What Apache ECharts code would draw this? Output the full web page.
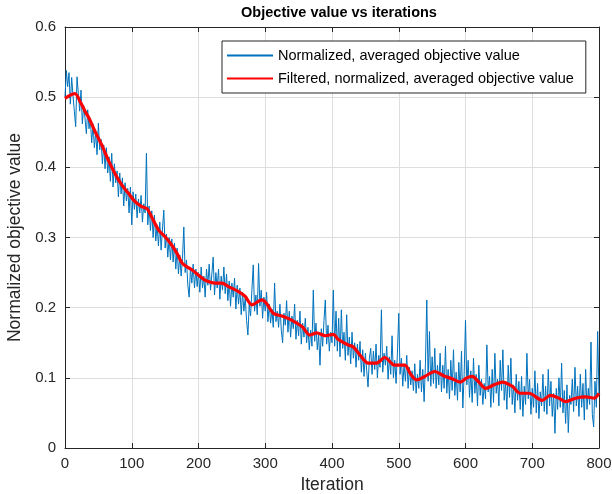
<!DOCTYPE html>
<html>
<head>
<meta charset="utf-8">
<title>Objective value vs iterations</title>
<script src="https://cdn.jsdelivr.net/npm/echarts@6/dist/echarts.min.js"></script>
<style>
  html, body { margin: 0; padding: 0; background: #fff; }
  #chart { width: 612px; height: 494px; }
</style>
</head>
<body>
<div id="chart"></div>
<script>
// noisy objective, one reading every 2 iterations (0..800)
const rawStep = 2;
const rawValues = [
  0.500, 0.538, 0.515, 0.535, 0.490, 0.528, 0.502, 0.480, 0.458, 0.529, 0.505, 0.480, 0.510, 0.462, 0.488, 0.470, 0.448, 0.482, 0.455, 0.468,
  0.435, 0.462, 0.428, 0.450, 0.418, 0.463, 0.425, 0.440, 0.405, 0.432, 0.398, 0.428, 0.392, 0.415, 0.380, 0.420, 0.372, 0.405, 0.378, 0.395,
  0.358, 0.392, 0.362, 0.385, 0.345, 0.378, 0.352, 0.370, 0.335, 0.372, 0.318, 0.365, 0.340, 0.362, 0.328, 0.355, 0.335, 0.360, 0.322, 0.348,
  0.335, 0.420, 0.318, 0.345, 0.310, 0.338, 0.300, 0.332, 0.295, 0.318, 0.288, 0.322, 0.282, 0.312, 0.339, 0.285, 0.305, 0.272, 0.300, 0.268,
  0.298, 0.265, 0.292, 0.255, 0.285, 0.248, 0.275, 0.245, 0.270, 0.315, 0.250, 0.268, 0.232, 0.215, 0.258, 0.235, 0.262, 0.228, 0.255, 0.230,
  0.250, 0.222, 0.258, 0.228, 0.245, 0.215, 0.255, 0.232, 0.262, 0.225, 0.248, 0.272, 0.218, 0.250, 0.228, 0.255, 0.212, 0.245, 0.225, 0.258,
  0.220, 0.248, 0.210, 0.238, 0.202, 0.235, 0.215, 0.242, 0.198, 0.232, 0.205, 0.228, 0.190, 0.222, 0.195, 0.215, 0.182, 0.161, 0.205, 0.188,
  0.225, 0.261, 0.195, 0.218, 0.190, 0.263, 0.202, 0.225, 0.185, 0.215, 0.195, 0.222, 0.180, 0.205, 0.178, 0.198, 0.172, 0.235, 0.180, 0.195,
  0.172, 0.205, 0.168, 0.150, 0.192, 0.175, 0.210, 0.165, 0.195, 0.158, 0.188, 0.170, 0.205, 0.155, 0.182, 0.160, 0.195, 0.148, 0.178, 0.158,
  0.185, 0.150, 0.172, 0.140, 0.168, 0.145, 0.225, 0.152, 0.178, 0.140, 0.162, 0.118, 0.170, 0.145, 0.182, 0.211, 0.148, 0.175, 0.138, 0.165,
  0.150, 0.225, 0.145, 0.195, 0.138, 0.185, 0.130, 0.197, 0.142, 0.165, 0.125, 0.190, 0.132, 0.158, 0.120, 0.165, 0.128, 0.150, 0.115, 0.148,
  0.125, 0.152, 0.108, 0.140, 0.102, 0.135, 0.110, 0.087, 0.128, 0.142, 0.105, 0.138, 0.112, 0.148, 0.100, 0.132, 0.115, 0.197, 0.108, 0.135,
  0.118, 0.145, 0.098, 0.130, 0.105, 0.160, 0.100, 0.125, 0.092, 0.135, 0.192, 0.105, 0.128, 0.088, 0.120, 0.095, 0.132, 0.085, 0.115, 0.090,
  0.110, 0.082, 0.120, 0.078, 0.105, 0.085, 0.125, 0.080, 0.112, 0.066, 0.120, 0.211, 0.095, 0.166, 0.088, 0.130, 0.092, 0.142, 0.085, 0.118,
  0.090, 0.135, 0.080, 0.118, 0.085, 0.145, 0.078, 0.112, 0.070, 0.125, 0.082, 0.140, 0.075, 0.108, 0.068, 0.122, 0.080, 0.138, 0.057, 0.105,
  0.182, 0.090, 0.125, 0.072, 0.110, 0.065, 0.128, 0.078, 0.105, 0.060, 0.118, 0.075, 0.098, 0.062, 0.092, 0.070, 0.147, 0.080, 0.102, 0.058,
  0.112, 0.065, 0.135, 0.078, 0.098, 0.060, 0.125, 0.082, 0.140, 0.068, 0.095, 0.055, 0.118, 0.072, 0.128, 0.062, 0.090, 0.050, 0.105, 0.068,
  0.095, 0.055, 0.102, 0.045, 0.088, 0.062, 0.135, 0.070, 0.098, 0.048, 0.085, 0.058, 0.110, 0.050, 0.092, 0.042, 0.080, 0.060, 0.105, 0.052,
  0.088, 0.048, 0.112, 0.060, 0.095, 0.045, 0.078, 0.021, 0.085, 0.055, 0.100, 0.058, 0.121, 0.050, 0.082, 0.035, 0.090, 0.022, 0.075, 0.062,
  0.098, 0.052, 0.115, 0.060, 0.088, 0.045, 0.105, 0.058, 0.092, 0.040, 0.112, 0.055, 0.085, 0.062, 0.151, 0.048, 0.030, 0.095, 0.058, 0.166,
  0.075
];

// filtered curve, read at its turning points
const filteredIters = [0, 8, 15, 23, 30, 36, 45, 55, 65, 75, 85, 95, 105, 115, 123, 130, 140, 150, 160, 168,
  176, 190, 203, 210, 225, 235, 245, 260, 270, 280, 295, 302, 312, 325, 340, 355, 367, 377, 390, 402,
  409, 424, 432, 444, 454, 467, 479, 494, 509, 518, 527, 539, 554, 567, 579, 592, 602, 610, 620, 630,
  643, 655, 670, 682, 695, 715, 727, 740, 750, 765, 780, 793, 800];
const filteredValues = [0.498, 0.503, 0.505, 0.493, 0.480, 0.470, 0.451, 0.432, 0.410, 0.391, 0.375, 0.363, 0.351, 0.344, 0.341, 0.329, 0.311, 0.301, 0.289, 0.277,
  0.263, 0.254, 0.244, 0.239, 0.235, 0.235, 0.230, 0.223, 0.216, 0.204, 0.211, 0.206, 0.192, 0.188, 0.182, 0.173, 0.161, 0.164, 0.160, 0.162,
  0.155, 0.147, 0.144, 0.130, 0.121, 0.121, 0.129, 0.118, 0.118, 0.105, 0.097, 0.102, 0.109, 0.103, 0.099, 0.094, 0.100, 0.102, 0.094, 0.085,
  0.090, 0.094, 0.088, 0.078, 0.078, 0.068, 0.075, 0.071, 0.066, 0.071, 0.073, 0.071, 0.078];

const seriesNames = ['Normalized, averaged objective value', 'Filtered, normalized, averaged objective value'];
const xRange = [0, 800, 100];
const yRange = [0, 0.6, 0.1];

const rawData = rawValues.map((v, i) => [i * rawStep, v]);
const filteredData = filteredIters.map((it, i) => [it, filteredValues[i]]);

const ink = '#262626';
const font = 'Liberation Sans, Arial, Helvetica, sans-serif';

const chart = echarts.init(document.getElementById('chart'), null, { renderer: 'canvas' });

const baseX = {
  type: 'value', min: xRange[0], max: xRange[1], interval: xRange[2],
  axisLine: { show: true, onZero: false, lineStyle: { color: ink, width: 1 } },
  axisTick: { show: true, inside: true, length: 5, lineStyle: { color: ink } }
};
const baseY = {
  type: 'value', min: yRange[0], max: yRange[1], interval: yRange[2],
  axisLine: { show: true, onZero: false, lineStyle: { color: ink, width: 1 } },
  axisTick: { show: true, inside: true, length: 5, lineStyle: { color: ink } }
};

chart.setOption({
  animation: false,
  backgroundColor: '#fff',
  title: {
    text: 'Objective value vs iterations',
    left: 334,
    top: 0,
    textAlign: 'center',
    textStyle: { fontFamily: font, fontSize: 14.5, fontWeight: 'bold', color: '#000' }
  },
  // fixed plot box, like the MATLAB axes
  grid: { left: 65, right: 13, top: 27, bottom: 46, show: false, containLabel: false, outerBoundsMode: 'none' },
  legend: {
    orient: 'vertical',
    left: 222,
    top: 41,
    padding: [7, 12, 7, 4],
    itemGap: 8,
    itemWidth: 46,
    itemHeight: 14,
    backgroundColor: '#fff',
    borderColor: ink,
    borderWidth: 1,
    borderRadius: 0,
    itemStyle: { opacity: 0 },
    textStyle: { fontFamily: font, fontSize: 14.5, color: '#000' },
    data: seriesNames
  },
  xAxis: [
    Object.assign({}, baseX, {
      position: 'bottom',
      name: 'Iteration',
      nameLocation: 'middle',
      nameGap: 28,
      nameTextStyle: { fontFamily: font, fontSize: 17.5, color: ink },
      axisLabel: { fontFamily: font, fontSize: 15, color: ink, margin: 8 },
      splitLine: { show: true, lineStyle: { color: '#dedede', width: 1 } }
    }),
    Object.assign({}, baseX, {
      position: 'top',
      axisLabel: { show: false },
      splitLine: { show: false }
    })
  ],
  yAxis: [
    Object.assign({}, baseY, {
      position: 'left',
      name: 'Normalized objective value',
      nameLocation: 'middle',
      nameGap: 37,
      nameTextStyle: { fontFamily: font, fontSize: 17.5, color: ink },
      axisLabel: { fontFamily: font, fontSize: 15, color: ink, margin: 9 },
      splitLine: { show: true, lineStyle: { color: '#dedede', width: 1 } }
    }),
    Object.assign({}, baseY, {
      position: 'right',
      axisLabel: { show: false },
      splitLine: { show: false }
    })
  ],
  series: [
    {
      name: seriesNames[0],
      type: 'line',
      data: rawData,
      symbol: 'none',
      lineStyle: { color: '#0072BD', width: 1 },
      itemStyle: { color: '#0072BD' },
      z: 2
    },
    {
      name: seriesNames[1],
      type: 'line',
      data: filteredData,
      symbol: 'none',
      smooth: 0.3,
      lineStyle: { color: '#FF0000', width: 3.2 },
      itemStyle: { color: '#FF0000' },
      z: 3
    }
  ]
});
</script>
</body>
</html>
